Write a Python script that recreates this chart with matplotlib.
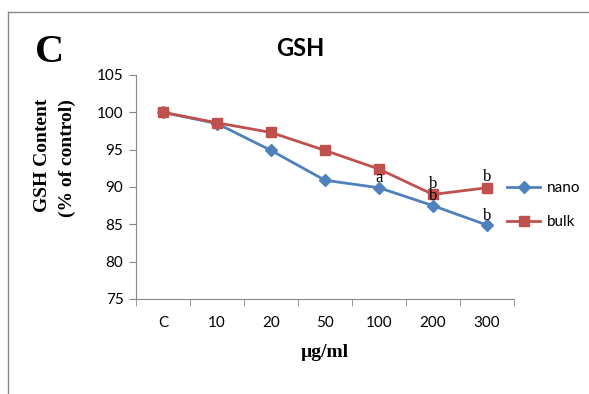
import matplotlib
matplotlib.use("Agg")
import matplotlib.pyplot as plt
from matplotlib.lines import Line2D

# data
doses = ["C", "10", "20", "50", "100", "200", "300"]
nano = [100, 98.5, 94.9, 90.9, 89.9, 87.5, 84.9]
bulk = [100, 98.6, 97.3, 94.9, 92.4, 89.0, 89.9]
# significance letters: (index, letter)
sig_nano = [(4, "a"), (5, "b"), (6, "b")]
sig_bulk = [(5, "b"), (6, "b")]

blue = "#4F81BD"
red = "#C0504D"
sans = ["Lato", "DejaVu Sans"]
serif = ["Liberation Serif", "DejaVu Serif"]

fig = plt.figure(figsize=(5.89, 3.94), dpi=100)
ax = fig.add_axes([136 / 589, 95 / 394, 378 / 589, 224 / 394])

x = list(range(len(doses)))
ax.plot(x, nano, color=blue, lw=2, marker="D", ms=6, label="nano")
ax.plot(x, bulk, color=red, lw=2, marker="s", ms=7, label="bulk")

for i, s in sig_nano:
    ax.annotate(s, (x[i], nano[i]), xytext=(0, 1), textcoords="offset points",
                ha="center", va="bottom", fontsize=12, family=serif)
for i, s in sig_bulk:
    ax.annotate(s, (x[i], bulk[i]), xytext=(0, 2), textcoords="offset points",
                ha="center", va="bottom", fontsize=12, family=serif)

ax.set_xlim(-0.5, len(doses) - 0.5)
ax.set_ylim(75, 105)
ax.set_yticks(range(75, 106, 5))
ax.set_xticks(x)
ax.set_xticklabels(doses, family=sans, fontsize=11)
ax.set_xticks([i - 0.5 for i in range(len(doses) + 1)], minor=True)
ax.tick_params(axis="x", which="major", length=0, pad=12)
ax.tick_params(axis="x", which="minor", length=5, color="#888888", direction="out")
ax.tick_params(axis="y", length=5, color="#888888", direction="out", labelsize=11, pad=4)
for lab in ax.get_yticklabels():
    lab.set_family(sans)
for side in ["top", "right"]:
    ax.spines[side].set_visible(False)
for side in ["left", "bottom"]:
    ax.spines[side].set_color("#888888")

ax.set_xlabel("µg/ml", family=serif, fontweight="bold", fontsize=14, labelpad=10)
fig.text(55 / 589, 1 - 99 / 394, "GSH Content\n(% of control)", rotation=90,
         ha="center", va="top", multialignment="right", linespacing=1.6,
         family=serif, fontweight="bold", fontsize=14)

fig.text(50 / 589, 1 - 53 / 394, "C", ha="center", va="center",
         family=serif, fontweight="bold", fontsize=29)
fig.text(300 / 589, 1 - 48 / 394, "GSH", ha="center", va="center",
         family=sans, fontweight="bold", fontsize=17)

handles = [Line2D([], [], color=blue, lw=2, marker="D", ms=6),
           Line2D([], [], color=red, lw=2, marker="s", ms=7)]
fig.legend(handles, ["nano", "bulk"], loc="center left",
           bbox_to_anchor=(493 / 589, 1 - 205 / 394), frameon=False,
           prop={"family": sans, "size": 11}, handlelength=2.2,
           handletextpad=0.4, labelspacing=1.3)

# outer frame (left and top edges only)
fig.add_artist(Line2D([8 / 589, 8 / 589], [0, 1 - 12 / 394], transform=fig.transFigure,
                      color="#888888", lw=1))
fig.add_artist(Line2D([8 / 589, 1], [1 - 12 / 394, 1 - 12 / 394], transform=fig.transFigure,
                      color="#888888", lw=1))

fig.savefig("out.png", dpi=100)
